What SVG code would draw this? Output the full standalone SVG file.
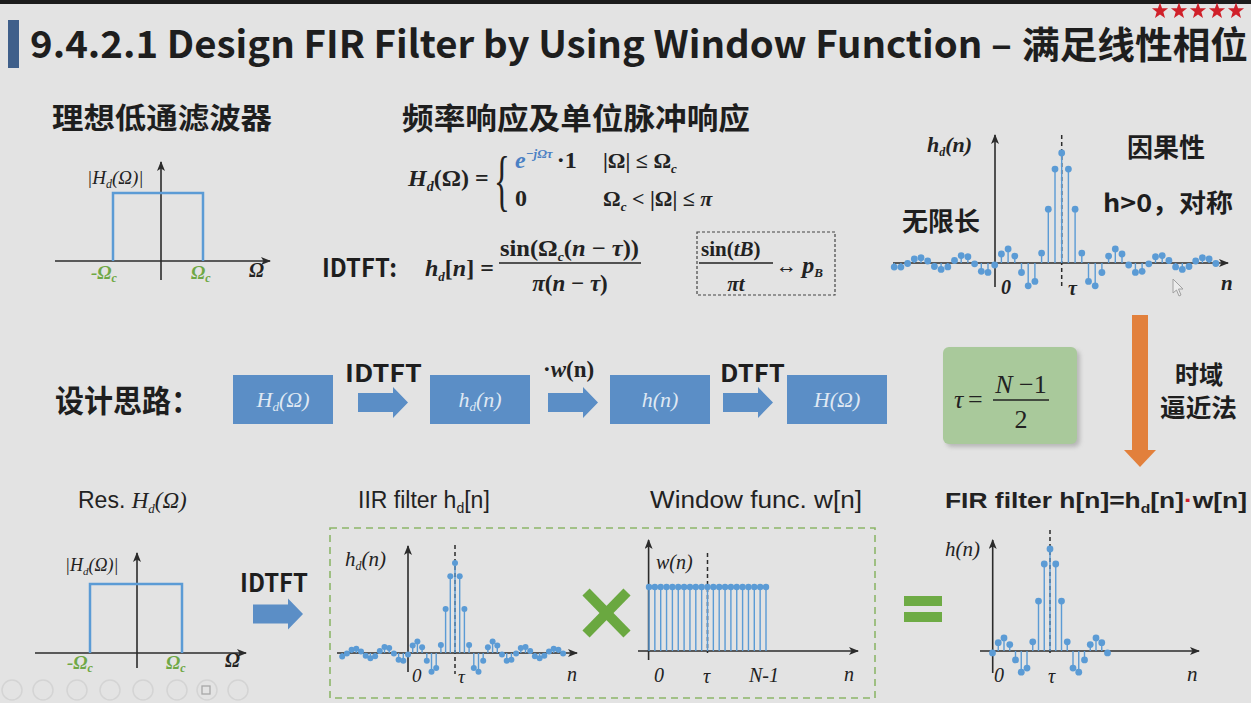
<svg xmlns="http://www.w3.org/2000/svg" width="1251" height="703" viewBox="0 0 1251 703">
<style>
.ax{stroke:#2b2b2b;stroke-width:1.6;fill:none}
.axa{stroke:#2b2b2b;stroke-width:1.6;fill:none;marker-end:url(#ah)}
.st{stroke:#5b9bd5;stroke-width:1.4;fill:none}
.dt{fill:#5b9bd5}
.tau{stroke:#2b2b2b;stroke-width:1.5;stroke-dasharray:4 3;fill:none}
.rectf{stroke:#5b9bd5;stroke-width:2.5;fill:none}
.m{font-family:"Liberation Serif",serif;fill:#222}
.mi{font-family:"Liberation Serif",serif;font-style:italic;fill:#222}
.mb{font-family:"Liberation Serif",serif;font-weight:bold;fill:#222}
.gr{font-family:"Liberation Serif",serif;font-style:italic;font-weight:bold;fill:#6fa845}
.cjk{font-family:"Noto Sans CJK SC","Noto Sans",sans-serif;font-weight:bold;fill:#1e1e1e}
.sans{font-family:"Liberation Sans",Arial,sans-serif;fill:#222}
.blk{fill:#5b8ec6}
.btx{font-family:"Liberation Serif",serif;font-style:italic;fill:#dfe8f3;font-size:22px;text-anchor:middle}
.tb{fill:none;stroke:#d4d4d4;stroke-width:1.5}
</style>
<defs>
<marker id="ah" viewBox="0 0 10 8" refX="9" refY="4" markerWidth="10" markerHeight="8" markerUnits="userSpaceOnUse" orient="auto">
<path d="M0,0 L10,4 L0,8 L2.5,4 z" fill="#2b2b2b"/>
</marker>
<polygon id="barrow" points="0,-9.5 35,-9.5 35,-15.5 50,0 35,15.5 35,9.5 0,9.5" fill="#5b8ec6"/>
<polygon id="star" points="0,-8.5 2.06,-2.83 8.08,-2.63 3.33,1.08 5,6.88 0,3.5 -5,6.88 -3.33,1.08 -8.08,-2.63 -2.06,-2.83" fill="#d0202a"/>
<filter id="sh" x="-10%" y="-10%" width="130%" height="130%"><feGaussianBlur stdDeviation="2"/></filter>
</defs>

<rect x="0" y="0" width="1251" height="703" fill="#e3e3e3"/>
<rect x="0" y="0" width="1251" height="4" fill="#1c1c1c"/>

<g id="title">
<rect x="8" y="20" width="11" height="48" fill="#3f5f8a"/>
<text x="30" y="58" class="cjk" font-size="38" textLength="982" lengthAdjust="spacingAndGlyphs">9.4.2.1 Design FIR Filter by Using Window Function –</text>
<text x="1022" y="59" class="cjk" font-size="37" textLength="226" lengthAdjust="spacingAndGlyphs">满足线性相位</text>
<g id="stars">
<use href="#star" x="1160" y="11"/><use href="#star" x="1179" y="11"/><use href="#star" x="1198" y="11"/><use href="#star" x="1217" y="11"/><use href="#star" x="1236" y="11"/>
</g>
</g>

<g id="ideal-lpf">
<text x="52" y="129" class="cjk" font-size="29" textLength="220" lengthAdjust="spacingAndGlyphs">理想低通滤波器</text>
<line x1="55" y1="261" x2="270" y2="261" class="axa"/>
<line x1="161" y1="280" x2="161" y2="162" class="axa"/>
<path d="M113,261 V193 H203 V261" class="rectf"/>
<text x="87" y="184" class="mi" font-size="19">|H<tspan font-size="12" dy="4">d</tspan><tspan dy="-4">(Ω)|</tspan></text>
<text x="91" y="279" class="gr" font-size="19">-Ω<tspan font-size="12" dy="3">c</tspan></text>
<text x="191" y="279" class="gr" font-size="19">Ω<tspan font-size="12" dy="3">c</tspan></text>
<text x="249" y="277" class="mi" font-size="20" font-weight="bold">Ω</text>
</g>

<g id="freq-resp">
<text x="402" y="129" class="cjk" font-size="30" textLength="348" lengthAdjust="spacingAndGlyphs">频率响应及单位脉冲响应</text>
<text x="408" y="186" class="mb" font-size="24"><tspan font-style="italic">H</tspan><tspan font-style="italic" font-size="14" dy="5">d</tspan><tspan dy="-5">(Ω) =</tspan></text>
<text transform="translate(494,203) scale(1,2.05)" class="m" font-size="33">{</text>
<text x="515" y="168" class="mb" font-size="24"><tspan font-style="italic" fill="#4a80c4">e</tspan><tspan font-size="13" dy="-10" font-style="italic" fill="#4a80c4">−jΩτ</tspan><tspan dy="10" dx="4">·1</tspan></text>
<text x="603" y="168" class="mb" font-size="22">|Ω| ≤ Ω<tspan font-size="13" dy="5" font-style="italic">c</tspan></text>
<text x="515" y="206" class="mb" font-size="24">0</text>
<text x="603" y="206" class="mb" font-size="22">Ω<tspan font-size="13" dy="5" font-style="italic">c</tspan><tspan dy="-5"> &lt; |Ω| ≤ </tspan><tspan font-style="italic">π</tspan></text>
<text x="322" y="277" class="cjk" font-size="25" textLength="75" lengthAdjust="spacingAndGlyphs">IDTFT:</text>
<text x="425" y="276" class="mb" font-size="24"><tspan font-style="italic">h</tspan><tspan font-style="italic" font-size="13" dy="5">d</tspan><tspan dy="-5">[</tspan><tspan font-style="italic">n</tspan>] =</text>
<text x="500" y="256" class="mb" font-size="23" textLength="139" lengthAdjust="spacingAndGlyphs">sin(Ω<tspan font-size="13" dy="5" font-style="italic">c</tspan><tspan dy="-5">(</tspan><tspan font-style="italic">n</tspan> − <tspan font-style="italic">τ</tspan>))</text>
<line x1="499" y1="263" x2="641" y2="263" stroke="#222" stroke-width="1.4"/>
<text x="570" y="291" class="mb" font-size="23" text-anchor="middle"><tspan font-style="italic">π</tspan>(<tspan font-style="italic">n</tspan> − <tspan font-style="italic">τ</tspan>)</text>
<rect x="697" y="232" width="138" height="63" fill="none" stroke="#444" stroke-width="1.2" stroke-dasharray="3 2"/>
<text x="701" y="256" class="mb" font-size="21">sin(<tspan font-style="italic">tB</tspan>)</text>
<line x1="699" y1="263" x2="773" y2="263" stroke="#222" stroke-width="1.4"/>
<text x="736" y="291" class="mb" font-size="21" text-anchor="middle" font-style="italic">πt</text>
<text x="776" y="273" class="mb" font-size="21">↔ <tspan font-style="italic" font-size="24">p</tspan><tspan font-style="italic" font-size="13" dy="4">B</tspan></text>
</g>

<g id="hd-infinite">
<line x1="893" y1="263" x2="1228" y2="263" class="axa"/>
<line x1="995" y1="287" x2="995" y2="135" class="axa"/>
<line x1="1061.7" y1="135" x2="1061.7" y2="289" class="tau"/>
<path class="st" d="M894.2 263V267.1M900.9 263V267.1M907.6 263V263.5M914.3 263V259M921 263V257.7M927.7 263V261M934.4 263V266.5M941.1 263V269.4M947.8 263V266.9M954.5 263V260.5M961.2 263V255.6M967.9 263V256.7M974.6 263V263.8M981.3 263V271.3M988 263V272.4M994.7 263V265M1001.4 263V254M1008.1 263V248.9M1014.8 263V256.1M1021.5 263V272.5M1028.2 263V285.8M1034.9 263V281.4M1041.6 263V253.1M1048.3 263V209.2M1055 263V169.1M1061.7 263V153M1068.4 263V169.1M1075.1 263V209.2M1081.8 263V253.1M1088.5 263V281.4M1095.2 263V285.8M1101.9 263V272.5M1108.6 263V256.1M1115.3 263V248.9M1122 263V254M1128.7 263V265M1135.4 263V272.4M1142.1 263V271.3M1148.8 263V263.8M1155.5 263V256.7M1162.2 263V255.6M1168.9 263V260.5M1175.6 263V266.9M1182.3 263V269.4M1189 263V266.5M1195.7 263V261M1202.4 263V257.7M1209.1 263V259M1215.8 263V263.5"/>
<g class="dt">
<circle cx="894.2" cy="267.1" r="3.4"/><circle cx="900.9" cy="267.1" r="3.4"/><circle cx="907.6" cy="263.5" r="3.4"/><circle cx="914.3" cy="259" r="3.4"/><circle cx="921" cy="257.7" r="3.4"/><circle cx="927.7" cy="261" r="3.4"/><circle cx="934.4" cy="266.5" r="3.4"/><circle cx="941.1" cy="269.4" r="3.4"/><circle cx="947.8" cy="266.9" r="3.4"/><circle cx="954.5" cy="260.5" r="3.4"/><circle cx="961.2" cy="255.6" r="3.4"/><circle cx="967.9" cy="256.7" r="3.4"/><circle cx="974.6" cy="263.8" r="3.4"/><circle cx="981.3" cy="271.3" r="3.4"/><circle cx="988" cy="272.4" r="3.4"/><circle cx="994.7" cy="265" r="3.4"/><circle cx="1001.4" cy="254" r="3.4"/><circle cx="1008.1" cy="248.9" r="3.4"/><circle cx="1014.8" cy="256.1" r="3.4"/><circle cx="1021.5" cy="272.5" r="3.4"/><circle cx="1028.2" cy="285.8" r="3.4"/><circle cx="1034.9" cy="281.4" r="3.4"/><circle cx="1041.6" cy="253.1" r="3.4"/><circle cx="1048.3" cy="209.2" r="3.4"/><circle cx="1055" cy="169.1" r="3.4"/><circle cx="1061.7" cy="153" r="3.4"/><circle cx="1068.4" cy="169.1" r="3.4"/><circle cx="1075.1" cy="209.2" r="3.4"/><circle cx="1081.8" cy="253.1" r="3.4"/><circle cx="1088.5" cy="281.4" r="3.4"/><circle cx="1095.2" cy="285.8" r="3.4"/><circle cx="1101.9" cy="272.5" r="3.4"/><circle cx="1108.6" cy="256.1" r="3.4"/><circle cx="1115.3" cy="248.9" r="3.4"/><circle cx="1122" cy="254" r="3.4"/><circle cx="1128.7" cy="265" r="3.4"/><circle cx="1135.4" cy="272.4" r="3.4"/><circle cx="1142.1" cy="271.3" r="3.4"/><circle cx="1148.8" cy="263.8" r="3.4"/><circle cx="1155.5" cy="256.7" r="3.4"/><circle cx="1162.2" cy="255.6" r="3.4"/><circle cx="1168.9" cy="260.5" r="3.4"/><circle cx="1175.6" cy="266.9" r="3.4"/><circle cx="1182.3" cy="269.4" r="3.4"/><circle cx="1189" cy="266.5" r="3.4"/><circle cx="1195.7" cy="261" r="3.4"/><circle cx="1202.4" cy="257.7" r="3.4"/><circle cx="1209.1" cy="259" r="3.4"/><circle cx="1215.8" cy="263.5" r="3.4"/>
</g>
<text x="927" y="152" class="mi" font-size="22" font-weight="bold">h<tspan font-size="12" dy="4">d</tspan><tspan dy="-4">(n)</tspan></text>
<text x="1001" y="294" class="mi" font-size="20" font-weight="bold">0</text>
<text x="1068" y="295" class="mi" font-size="20" font-weight="bold">τ</text>
<text x="1221" y="290" class="mi" font-size="21" font-weight="bold">n</text>
<text x="1127" y="157" class="cjk" font-size="26" textLength="78" lengthAdjust="spacingAndGlyphs">因果性</text>
<text x="1103" y="212" class="cjk" font-size="25" font-weight="600" textLength="130" lengthAdjust="spacingAndGlyphs">h&gt;0，对称</text>
<text x="902" y="231" class="cjk" font-size="26" fill="#c8282e" textLength="78" lengthAdjust="spacingAndGlyphs">无限长</text>
<polygon points="1173,279 1173,293 1176.5,290 1179,296 1181,295 1178.5,289 1183,289" fill="#ececec" stroke="#a0a0a0" stroke-width="1"/>
</g>

<g id="design-flow">
<text x="55" y="412" class="cjk" font-size="31" textLength="145" lengthAdjust="spacingAndGlyphs">设计思路：</text>
<g id="blk-Hd"><rect x="233" y="375" width="100" height="49" class="blk"/><text x="283" y="407" class="btx">H<tspan font-size="13" dy="4">d</tspan><tspan dy="-4">(Ω)</tspan></text></g>
<g id="blk-hd"><rect x="430" y="375" width="100" height="49" class="blk"/><text x="480" y="407" class="btx">h<tspan font-size="13" dy="4">d</tspan><tspan dy="-4">(n)</tspan></text></g>
<g id="blk-h"><rect x="610" y="375" width="100" height="49" class="blk"/><text x="660" y="407" class="btx">h(n)</text></g>
<g id="blk-H"><rect x="787" y="375" width="100" height="49" class="blk"/><text x="837" y="407" class="btx">H(Ω)</text></g>
<g id="flow-arrows">
<use href="#barrow" x="358" y="402.5"/>
<use href="#barrow" x="548" y="402.5"/>
<use href="#barrow" x="723" y="402.5"/>
</g>
<text x="345" y="382" class="cjk" font-size="24" textLength="77" lengthAdjust="spacingAndGlyphs">IDTFT</text>
<text x="543" y="377" class="mb" font-size="23" fill="#c8282e">·<tspan font-style="italic">w</tspan>(n)</text>
<text x="720" y="382" class="cjk" font-size="24" textLength="65" lengthAdjust="spacingAndGlyphs">DTFT</text>
</g>

<g id="tau-box">
<rect x="946" y="350" width="134" height="97" rx="6" fill="#9a9a9a" opacity="0.6" filter="url(#sh)"/>
<rect x="943" y="347" width="134" height="97" rx="6" fill="#a9c99b"/>
<text x="954" y="408" class="mi" font-size="26">τ</text>
<text x="968" y="408" class="m" font-size="26">=</text>
<text x="1021" y="393" class="m" font-size="26" text-anchor="middle"><tspan font-style="italic">N</tspan> −1</text>
<line x1="993" y1="400" x2="1049" y2="400" stroke="#222" stroke-width="1.3"/>
<text x="1021" y="428" class="m" font-size="26" text-anchor="middle">2</text>
</g>

<g id="time-approx">
<rect x="1132" y="315" width="16" height="136" fill="#e2803c"/>
<polygon points="1124,450 1156,450 1140,467" fill="#e2803c"/>
<text x="1175" y="384" class="cjk" font-size="25" textLength="48" lengthAdjust="spacingAndGlyphs">时域</text>
<text x="1160" y="417" class="cjk" font-size="25" textLength="77" lengthAdjust="spacingAndGlyphs">逼近法</text>
</g>

<g id="res-Hd">
<text x="78" y="508" class="sans" font-size="23">Res. <tspan font-family="Liberation Serif,serif" font-style="italic">H</tspan><tspan font-family="Liberation Serif,serif" font-style="italic" font-size="13" dy="5">d</tspan><tspan font-family="Liberation Serif,serif" font-style="italic" dy="-5">(Ω)</tspan></text>
<line x1="35" y1="653" x2="246" y2="653" class="axa"/>
<line x1="137" y1="668" x2="137" y2="553" class="axa"/>
<path d="M90,653 V584 H182 V653" class="rectf"/>
<text x="65" y="571" class="mi" font-size="18">|H<tspan font-size="11" dy="4">d</tspan><tspan dy="-4">(Ω)|</tspan></text>
<text x="67" y="669" class="gr" font-size="19">-Ω<tspan font-size="12" dy="3">c</tspan></text>
<text x="166" y="669" class="gr" font-size="19">Ω<tspan font-size="12" dy="3">c</tspan></text>
<text x="225" y="667" class="mi" font-size="20" font-weight="bold">Ω</text>
</g>

<g id="idtft-arrow">
<text x="240" y="592" class="cjk" font-size="25" textLength="68" lengthAdjust="spacingAndGlyphs">IDTFT</text>
<use href="#barrow" x="253" y="614"/>
</g>

<g id="iir-window-box">
<rect x="330" y="528" width="545" height="170" fill="none" stroke="#8db66a" stroke-width="1.6" stroke-dasharray="7 5"/>
</g>

<g id="iir">
<text x="358" y="508" class="sans" font-size="23">IIR filter h<tspan font-size="14" dy="5">d</tspan><tspan dy="-5">[n]</tspan></text>
<line x1="337" y1="653" x2="577" y2="653" class="axa"/>
<line x1="408" y1="672" x2="408" y2="546" class="axa"/>
<line x1="455" y1="545" x2="455" y2="674" class="tau"/>
<path class="st" d="M342.2 653V656.4M346.9 653V653.4M351.6 653V649.7M356.3 653V648.7M361 653V651.4M365.7 653V655.8M370.4 653V658.2M375.1 653V656.2M379.8 653V651M384.5 653V647M389.2 653V647.9M393.9 653V653.6M398.6 653V659.8M403.3 653V660.7M408 653V654.6M412.7 653V645.6M417.4 653V641.5M422.1 653V647.3M426.8 653V660.8M431.5 653V671.7M436.2 653V668.1M440.9 653V644.9M445.6 653V609M450.3 653V576.2M455 653V563M459.7 653V576.2M464.4 653V609M469.1 653V644.9M473.8 653V668.1M478.5 653V671.7M483.2 653V660.8M487.9 653V647.3M492.6 653V641.5M497.3 653V645.6M502 653V654.6M506.7 653V660.7M511.4 653V659.8M516.1 653V653.6M520.8 653V647.9M525.5 653V647M530.2 653V651M534.9 653V656.2M539.6 653V658.2M544.3 653V655.8M549 653V651.4M553.7 653V648.7M558.4 653V649.7M563.1 653V653.4"/>
<g class="dt">
<circle cx="342.2" cy="656.4" r="3"/><circle cx="346.9" cy="653.4" r="3"/><circle cx="351.6" cy="649.7" r="3"/><circle cx="356.3" cy="648.7" r="3"/><circle cx="361" cy="651.4" r="3"/><circle cx="365.7" cy="655.8" r="3"/><circle cx="370.4" cy="658.2" r="3"/><circle cx="375.1" cy="656.2" r="3"/><circle cx="379.8" cy="651" r="3"/><circle cx="384.5" cy="647" r="3"/><circle cx="389.2" cy="647.9" r="3"/><circle cx="393.9" cy="653.6" r="3"/><circle cx="398.6" cy="659.8" r="3"/><circle cx="403.3" cy="660.7" r="3"/><circle cx="408" cy="654.6" r="3"/><circle cx="412.7" cy="645.6" r="3"/><circle cx="417.4" cy="641.5" r="3"/><circle cx="422.1" cy="647.3" r="3"/><circle cx="426.8" cy="660.8" r="3"/><circle cx="431.5" cy="671.7" r="3"/><circle cx="436.2" cy="668.1" r="3"/><circle cx="440.9" cy="644.9" r="3"/><circle cx="445.6" cy="609" r="3"/><circle cx="450.3" cy="576.2" r="3"/><circle cx="455" cy="563" r="3"/><circle cx="459.7" cy="576.2" r="3"/><circle cx="464.4" cy="609" r="3"/><circle cx="469.1" cy="644.9" r="3"/><circle cx="473.8" cy="668.1" r="3"/><circle cx="478.5" cy="671.7" r="3"/><circle cx="483.2" cy="660.8" r="3"/><circle cx="487.9" cy="647.3" r="3"/><circle cx="492.6" cy="641.5" r="3"/><circle cx="497.3" cy="645.6" r="3"/><circle cx="502" cy="654.6" r="3"/><circle cx="506.7" cy="660.7" r="3"/><circle cx="511.4" cy="659.8" r="3"/><circle cx="516.1" cy="653.6" r="3"/><circle cx="520.8" cy="647.9" r="3"/><circle cx="525.5" cy="647" r="3"/><circle cx="530.2" cy="651" r="3"/><circle cx="534.9" cy="656.2" r="3"/><circle cx="539.6" cy="658.2" r="3"/><circle cx="544.3" cy="655.8" r="3"/><circle cx="549" cy="651.4" r="3"/><circle cx="553.7" cy="648.7" r="3"/><circle cx="558.4" cy="649.7" r="3"/><circle cx="563.1" cy="653.4" r="3"/>
</g>
<text x="345" y="566" class="mi" font-size="21">h<tspan font-size="12" dy="4">d</tspan><tspan dy="-4">(n)</tspan></text>
<text x="412" y="682" class="mi" font-size="19">0</text>
<text x="458" y="683" class="mi" font-size="19">τ</text>
<text x="567" y="681" class="mi" font-size="20">n</text>
</g>

<g id="times-sign">
<line x1="586" y1="592" x2="627" y2="634" stroke="#6aa840" stroke-width="10"/>
<line x1="627" y1="592" x2="586" y2="634" stroke="#6aa840" stroke-width="10"/>
</g>

<g id="window">
<text x="650" y="508" class="sans" font-size="23" textLength="212" lengthAdjust="spacingAndGlyphs">Window func. w[n]</text>
<line x1="638" y1="651" x2="858" y2="651" class="axa"/>
<line x1="648.6" y1="660" x2="648.6" y2="540" class="axa"/>
<line x1="707.5" y1="553" x2="707.5" y2="653" class="tau"/>
<path class="st" d="M649 651V587M654.85 651V587M660.7 651V587M666.55 651V587M672.4 651V587M678.25 651V587M684.1 651V587M689.95 651V587M695.8 651V587M701.65 651V587M707.5 651V587M713.35 651V587M719.2 651V587M725.05 651V587M730.9 651V587M736.75 651V587M742.6 651V587M748.45 651V587M754.3 651V587M760.15 651V587M766 651V587"/>
<g class="dt">
<circle cx="649" cy="587" r="3.2"/><circle cx="654.85" cy="587" r="3.2"/><circle cx="660.7" cy="587" r="3.2"/><circle cx="666.55" cy="587" r="3.2"/><circle cx="672.4" cy="587" r="3.2"/><circle cx="678.25" cy="587" r="3.2"/><circle cx="684.1" cy="587" r="3.2"/><circle cx="689.95" cy="587" r="3.2"/><circle cx="695.8" cy="587" r="3.2"/><circle cx="701.65" cy="587" r="3.2"/><circle cx="707.5" cy="587" r="3.2"/><circle cx="713.35" cy="587" r="3.2"/><circle cx="719.2" cy="587" r="3.2"/><circle cx="725.05" cy="587" r="3.2"/><circle cx="730.9" cy="587" r="3.2"/><circle cx="736.75" cy="587" r="3.2"/><circle cx="742.6" cy="587" r="3.2"/><circle cx="748.45" cy="587" r="3.2"/><circle cx="754.3" cy="587" r="3.2"/><circle cx="760.15" cy="587" r="3.2"/><circle cx="766" cy="587" r="3.2"/>
</g>
<text x="656" y="569" class="mi" font-size="20">w(n)</text>
<text x="654" y="682" class="mi" font-size="20">0</text>
<text x="703" y="683" class="mi" font-size="20">τ</text>
<text x="749" y="682" class="mi" font-size="20">N-1</text>
<text x="844" y="681" class="mi" font-size="20">n</text>
</g>

<g id="equals-sign">
<rect x="904" y="596" width="38" height="10" fill="#6eab45"/>
<rect x="904" y="612" width="38" height="10" fill="#6eab45"/>
</g>

<g id="fir">
<text x="945" y="508" class="sans" font-size="22" font-weight="bold" textLength="302" lengthAdjust="spacingAndGlyphs">FIR filter h[n]=h<tspan font-size="13" dy="5">d</tspan><tspan dy="-5">[n]</tspan><tspan fill="#d0202a">·</tspan>w[n]</text>
<line x1="980" y1="651" x2="1199" y2="651" class="axa"/>
<line x1="992.7" y1="673" x2="992.7" y2="540" class="axa"/>
<line x1="1050" y1="530" x2="1050" y2="656" class="tau"/>
<path class="st" d="M992.5 651V652.9M998.25 651V642.7M1004 651V637.9M1009.75 651V644.6M1015.5 651V659.9M1021.25 651V672.2M1027 651V668.1M1032.75 651V641.8M1038.5 651V601.1M1044.25 651V564M1050 651V549M1055.75 651V564M1061.5 651V601.1M1067.25 651V641.8M1073 651V668.1M1078.75 651V672.2M1084.5 651V659.9M1090.25 651V644.6M1096 651V637.9M1101.75 651V642.7M1107.5 651V652.9"/>
<g class="dt">
<circle cx="992.5" cy="652.9" r="3.4"/><circle cx="998.25" cy="642.7" r="3.4"/><circle cx="1004" cy="637.9" r="3.4"/><circle cx="1009.75" cy="644.6" r="3.4"/><circle cx="1015.5" cy="659.9" r="3.4"/><circle cx="1021.25" cy="672.2" r="3.4"/><circle cx="1027" cy="668.1" r="3.4"/><circle cx="1032.75" cy="641.8" r="3.4"/><circle cx="1038.5" cy="601.1" r="3.4"/><circle cx="1044.25" cy="564" r="3.4"/><circle cx="1050" cy="549" r="3.4"/><circle cx="1055.75" cy="564" r="3.4"/><circle cx="1061.5" cy="601.1" r="3.4"/><circle cx="1067.25" cy="641.8" r="3.4"/><circle cx="1073" cy="668.1" r="3.4"/><circle cx="1078.75" cy="672.2" r="3.4"/><circle cx="1084.5" cy="659.9" r="3.4"/><circle cx="1090.25" cy="644.6" r="3.4"/><circle cx="1096" cy="637.9" r="3.4"/><circle cx="1101.75" cy="642.7" r="3.4"/><circle cx="1107.5" cy="652.9" r="3.4"/>
</g>
<text x="945" y="556" class="mi" font-size="21">h(n)</text>
<text x="994" y="682" class="mi" font-size="20">0</text>
<text x="1048" y="683" class="mi" font-size="20">τ</text>
<text x="1187" y="681" class="mi" font-size="21">n</text>
</g>

<g id="toolbar">
<circle cx="12" cy="690" r="10" class="tb"/><circle cx="43" cy="690" r="10" class="tb"/><circle cx="77" cy="690" r="10" class="tb"/><circle cx="110" cy="690" r="10" class="tb"/><circle cx="143" cy="690" r="10" class="tb"/><circle cx="177" cy="690" r="10" class="tb"/><circle cx="207" cy="690" r="10" class="tb"/><circle cx="238" cy="690" r="10" class="tb"/>
<rect x="202" y="686" width="8" height="8" fill="none" stroke="#a8a8a8" stroke-width="1.3"/>
</g>
</svg>
